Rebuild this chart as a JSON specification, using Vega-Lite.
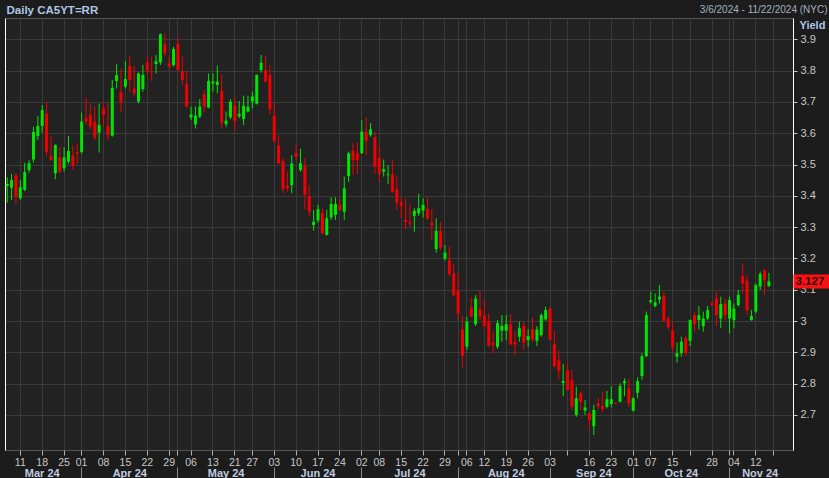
{
"$schema": "https://vega.github.io/schema/vega-lite/v6.json",
"width": 788, "height": 432,
"autosize": {"type": "none"},
"padding": {"left": 5, "top": 18, "right": 36, "bottom": 28},
"background": "#1c1c1c",
"view": {"fill": "#222222", "stroke": "#555555", "strokeWidth": 1},
"config": {"font": "Liberation Sans"},
"data": {"values": [
{"d":"2024-03-06","o":3.431,"h":3.459,"l":3.378,"c":3.438},
{"d":"2024-03-07","o":3.426,"h":3.470,"l":3.387,"c":3.450},
{"d":"2024-03-08","o":3.465,"h":3.472,"l":3.374,"c":3.397},
{"d":"2024-03-11","o":3.392,"h":3.450,"l":3.387,"c":3.427},
{"d":"2024-03-12","o":3.419,"h":3.506,"l":3.415,"c":3.476},
{"d":"2024-03-13","o":3.482,"h":3.514,"l":3.474,"c":3.504},
{"d":"2024-03-14","o":3.516,"h":3.621,"l":3.506,"c":3.604},
{"d":"2024-03-15","o":3.591,"h":3.655,"l":3.578,"c":3.623},
{"d":"2024-03-18","o":3.623,"h":3.690,"l":3.602,"c":3.674},
{"d":"2024-03-19","o":3.663,"h":3.701,"l":3.527,"c":3.541},
{"d":"2024-03-20","o":3.527,"h":3.591,"l":3.512,"c":3.514},
{"d":"2024-03-21","o":3.472,"h":3.565,"l":3.453,"c":3.562},
{"d":"2024-03-22","o":3.523,"h":3.555,"l":3.472,"c":3.477},
{"d":"2024-03-25","o":3.488,"h":3.555,"l":3.477,"c":3.523},
{"d":"2024-03-26","o":3.509,"h":3.591,"l":3.502,"c":3.543},
{"d":"2024-03-27","o":3.529,"h":3.562,"l":3.482,"c":3.497},
{"d":"2024-03-28","o":3.539,"h":3.568,"l":3.502,"c":3.535},
{"d":"2024-04-01","o":3.540,"h":3.666,"l":3.534,"c":3.637},
{"d":"2024-04-02","o":3.647,"h":3.715,"l":3.629,"c":3.637},
{"d":"2024-04-03","o":3.658,"h":3.695,"l":3.612,"c":3.621},
{"d":"2024-04-04","o":3.637,"h":3.685,"l":3.578,"c":3.587},
{"d":"2024-04-05","o":3.602,"h":3.695,"l":3.538,"c":3.626},
{"d":"2024-04-08","o":3.679,"h":3.697,"l":3.621,"c":3.658},
{"d":"2024-04-09","o":3.623,"h":3.695,"l":3.578,"c":3.594},
{"d":"2024-04-10","o":3.592,"h":3.770,"l":3.589,"c":3.745},
{"d":"2024-04-11","o":3.767,"h":3.820,"l":3.743,"c":3.786},
{"d":"2024-04-12","o":3.731,"h":3.807,"l":3.667,"c":3.699},
{"d":"2024-04-15","o":3.749,"h":3.831,"l":3.743,"c":3.773},
{"d":"2024-04-16","o":3.815,"h":3.847,"l":3.733,"c":3.770},
{"d":"2024-04-17","o":3.741,"h":3.816,"l":3.717,"c":3.727},
{"d":"2024-04-18","o":3.701,"h":3.794,"l":3.695,"c":3.791},
{"d":"2024-04-19","o":3.741,"h":3.818,"l":3.733,"c":3.786},
{"d":"2024-04-22","o":3.826,"h":3.845,"l":3.786,"c":3.800},
{"d":"2024-04-23","o":3.798,"h":3.845,"l":3.767,"c":3.795},
{"d":"2024-04-24","o":3.821,"h":3.850,"l":3.791,"c":3.830},
{"d":"2024-04-25","o":3.826,"h":3.919,"l":3.818,"c":3.916},
{"d":"2024-04-26","o":3.884,"h":3.919,"l":3.845,"c":3.855},
{"d":"2024-04-29","o":3.823,"h":3.845,"l":3.805,"c":3.813},
{"d":"2024-04-30","o":3.818,"h":3.876,"l":3.813,"c":3.869},
{"d":"2024-05-01","o":3.884,"h":3.908,"l":3.800,"c":3.802},
{"d":"2024-05-02","o":3.797,"h":3.845,"l":3.754,"c":3.770},
{"d":"2024-05-03","o":3.756,"h":3.797,"l":3.680,"c":3.685},
{"d":"2024-05-06","o":3.650,"h":3.685,"l":3.642,"c":3.660},
{"d":"2024-05-07","o":3.628,"h":3.685,"l":3.615,"c":3.656},
{"d":"2024-05-08","o":3.653,"h":3.709,"l":3.648,"c":3.685},
{"d":"2024-05-09","o":3.724,"h":3.738,"l":3.667,"c":3.685},
{"d":"2024-05-10","o":3.682,"h":3.791,"l":3.679,"c":3.767},
{"d":"2024-05-13","o":3.759,"h":3.791,"l":3.733,"c":3.765},
{"d":"2024-05-14","o":3.754,"h":3.816,"l":3.727,"c":3.765},
{"d":"2024-05-15","o":3.735,"h":3.788,"l":3.616,"c":3.634},
{"d":"2024-05-16","o":3.629,"h":3.669,"l":3.621,"c":3.640},
{"d":"2024-05-17","o":3.651,"h":3.709,"l":3.645,"c":3.701},
{"d":"2024-05-21","o":3.688,"h":3.714,"l":3.610,"c":3.639},
{"d":"2024-05-22","o":3.654,"h":3.703,"l":3.648,"c":3.662},
{"d":"2024-05-23","o":3.645,"h":3.720,"l":3.626,"c":3.688},
{"d":"2024-05-24","o":3.669,"h":3.720,"l":3.666,"c":3.685},
{"d":"2024-05-27","o":3.701,"h":3.733,"l":3.679,"c":3.717},
{"d":"2024-05-28","o":3.694,"h":3.788,"l":3.692,"c":3.786},
{"d":"2024-05-29","o":3.802,"h":3.850,"l":3.794,"c":3.825},
{"d":"2024-05-30","o":3.802,"h":3.847,"l":3.763,"c":3.765},
{"d":"2024-05-31","o":3.786,"h":3.818,"l":3.660,"c":3.677},
{"d":"2024-06-03","o":3.656,"h":3.695,"l":3.568,"c":3.575},
{"d":"2024-06-04","o":3.560,"h":3.594,"l":3.501,"c":3.504},
{"d":"2024-06-05","o":3.511,"h":3.520,"l":3.408,"c":3.422},
{"d":"2024-06-06","o":3.432,"h":3.477,"l":3.413,"c":3.424},
{"d":"2024-06-07","o":3.434,"h":3.530,"l":3.408,"c":3.503},
{"d":"2024-06-10","o":3.536,"h":3.564,"l":3.514,"c":3.525},
{"d":"2024-06-11","o":3.482,"h":3.550,"l":3.477,"c":3.504},
{"d":"2024-06-12","o":3.495,"h":3.520,"l":3.357,"c":3.403},
{"d":"2024-06-13","o":3.399,"h":3.434,"l":3.333,"c":3.349},
{"d":"2024-06-14","o":3.307,"h":3.355,"l":3.289,"c":3.317},
{"d":"2024-06-17","o":3.321,"h":3.371,"l":3.314,"c":3.357},
{"d":"2024-06-18","o":3.346,"h":3.360,"l":3.278,"c":3.280},
{"d":"2024-06-19","o":3.275,"h":3.355,"l":3.273,"c":3.328},
{"d":"2024-06-20","o":3.331,"h":3.395,"l":3.323,"c":3.374},
{"d":"2024-06-21","o":3.339,"h":3.395,"l":3.323,"c":3.374},
{"d":"2024-06-24","o":3.371,"h":3.392,"l":3.352,"c":3.355},
{"d":"2024-06-25","o":3.349,"h":3.461,"l":3.323,"c":3.424},
{"d":"2024-06-26","o":3.463,"h":3.541,"l":3.445,"c":3.536},
{"d":"2024-06-27","o":3.544,"h":3.570,"l":3.466,"c":3.514},
{"d":"2024-06-28","o":3.536,"h":3.570,"l":3.470,"c":3.514},
{"d":"2024-07-02","o":3.536,"h":3.642,"l":3.534,"c":3.605},
{"d":"2024-07-03","o":3.605,"h":3.651,"l":3.530,"c":3.576},
{"d":"2024-07-04","o":3.594,"h":3.632,"l":3.589,"c":3.612},
{"d":"2024-07-05","o":3.587,"h":3.605,"l":3.472,"c":3.493},
{"d":"2024-07-08","o":3.520,"h":3.557,"l":3.445,"c":3.470},
{"d":"2024-07-09","o":3.477,"h":3.516,"l":3.461,"c":3.485},
{"d":"2024-07-10","o":3.466,"h":3.498,"l":3.438,"c":3.469},
{"d":"2024-07-11","o":3.467,"h":3.516,"l":3.410,"c":3.413},
{"d":"2024-07-12","o":3.421,"h":3.461,"l":3.355,"c":3.378},
{"d":"2024-07-15","o":3.378,"h":3.395,"l":3.328,"c":3.368},
{"d":"2024-07-16","o":3.323,"h":3.392,"l":3.293,"c":3.316},
{"d":"2024-07-17","o":3.317,"h":3.374,"l":3.301,"c":3.312},
{"d":"2024-07-18","o":3.336,"h":3.360,"l":3.285,"c":3.352},
{"d":"2024-07-19","o":3.344,"h":3.406,"l":3.336,"c":3.360},
{"d":"2024-07-22","o":3.353,"h":3.392,"l":3.331,"c":3.371},
{"d":"2024-07-23","o":3.358,"h":3.395,"l":3.323,"c":3.328},
{"d":"2024-07-24","o":3.314,"h":3.357,"l":3.259,"c":3.305},
{"d":"2024-07-25","o":3.230,"h":3.328,"l":3.218,"c":3.288},
{"d":"2024-07-26","o":3.288,"h":3.317,"l":3.227,"c":3.235},
{"d":"2024-07-29","o":3.199,"h":3.243,"l":3.193,"c":3.218},
{"d":"2024-07-30","o":3.195,"h":3.238,"l":3.142,"c":3.150},
{"d":"2024-07-31","o":3.152,"h":3.182,"l":3.078,"c":3.083},
{"d":"2024-08-01","o":3.097,"h":3.152,"l":3.003,"c":3.025},
{"d":"2024-08-02","o":2.973,"h":3.016,"l":2.852,"c":2.889},
{"d":"2024-08-06","o":2.918,"h":3.014,"l":2.907,"c":2.998},
{"d":"2024-08-07","o":3.043,"h":3.076,"l":3.012,"c":3.014},
{"d":"2024-08-08","o":2.990,"h":3.083,"l":2.984,"c":3.072},
{"d":"2024-08-09","o":3.038,"h":3.097,"l":3.003,"c":3.014},
{"d":"2024-08-12","o":3.017,"h":3.062,"l":2.975,"c":2.985},
{"d":"2024-08-13","o":3.000,"h":3.025,"l":2.918,"c":2.921},
{"d":"2024-08-14","o":2.931,"h":2.966,"l":2.897,"c":2.923},
{"d":"2024-08-15","o":2.918,"h":3.003,"l":2.911,"c":2.993},
{"d":"2024-08-16","o":2.969,"h":3.019,"l":2.934,"c":2.984},
{"d":"2024-08-19","o":2.969,"h":3.019,"l":2.939,"c":2.990},
{"d":"2024-08-20","o":2.990,"h":3.022,"l":2.923,"c":2.925},
{"d":"2024-08-21","o":2.934,"h":2.966,"l":2.891,"c":2.925},
{"d":"2024-08-22","o":2.950,"h":2.998,"l":2.934,"c":2.977},
{"d":"2024-08-23","o":2.985,"h":2.998,"l":2.909,"c":2.931},
{"d":"2024-08-26","o":2.939,"h":2.973,"l":2.918,"c":2.952},
{"d":"2024-08-27","o":2.973,"h":3.012,"l":2.934,"c":2.941},
{"d":"2024-08-28","o":2.937,"h":2.984,"l":2.920,"c":2.973},
{"d":"2024-08-29","o":2.955,"h":3.024,"l":2.950,"c":3.019},
{"d":"2024-08-30","o":3.005,"h":3.046,"l":3.001,"c":3.035},
{"d":"2024-09-03","o":3.040,"h":3.044,"l":2.939,"c":2.941},
{"d":"2024-09-04","o":2.926,"h":2.969,"l":2.852,"c":2.856},
{"d":"2024-09-05","o":2.875,"h":2.907,"l":2.814,"c":2.841},
{"d":"2024-09-06","o":2.802,"h":2.863,"l":2.760,"c":2.808},
{"d":"2024-09-09","o":2.843,"h":2.863,"l":2.777,"c":2.779},
{"d":"2024-09-10","o":2.811,"h":2.843,"l":2.716,"c":2.726},
{"d":"2024-09-11","o":2.700,"h":2.790,"l":2.694,"c":2.753},
{"d":"2024-09-12","o":2.769,"h":2.774,"l":2.716,"c":2.742},
{"d":"2024-09-13","o":2.714,"h":2.748,"l":2.700,"c":2.724},
{"d":"2024-09-16","o":2.705,"h":2.710,"l":2.654,"c":2.684},
{"d":"2024-09-17","o":2.664,"h":2.732,"l":2.636,"c":2.716},
{"d":"2024-09-18","o":2.737,"h":2.756,"l":2.718,"c":2.728},
{"d":"2024-09-19","o":2.728,"h":2.774,"l":2.710,"c":2.719},
{"d":"2024-09-20","o":2.726,"h":2.777,"l":2.721,"c":2.750},
{"d":"2024-09-23","o":2.735,"h":2.792,"l":2.724,"c":2.750},
{"d":"2024-09-24","o":2.738,"h":2.739,"l":2.734,"c":2.735},
{"d":"2024-09-25","o":2.742,"h":2.801,"l":2.740,"c":2.792},
{"d":"2024-09-26","o":2.801,"h":2.817,"l":2.760,"c":2.808},
{"d":"2024-09-27","o":2.785,"h":2.814,"l":2.726,"c":2.737},
{"d":"2024-10-01","o":2.714,"h":2.758,"l":2.710,"c":2.753},
{"d":"2024-10-02","o":2.771,"h":2.820,"l":2.753,"c":2.808},
{"d":"2024-10-03","o":2.824,"h":2.897,"l":2.812,"c":2.888},
{"d":"2024-10-04","o":2.888,"h":3.030,"l":2.884,"c":3.019},
{"d":"2024-10-07","o":3.060,"h":3.094,"l":3.056,"c":3.067},
{"d":"2024-10-08","o":3.048,"h":3.088,"l":3.044,"c":3.060},
{"d":"2024-10-09","o":3.069,"h":3.115,"l":3.056,"c":3.078},
{"d":"2024-10-10","o":3.080,"h":3.094,"l":2.999,"c":3.001},
{"d":"2024-10-11","o":3.008,"h":3.016,"l":2.973,"c":2.980},
{"d":"2024-10-15","o":2.969,"h":2.998,"l":2.899,"c":2.916},
{"d":"2024-10-16","o":2.886,"h":2.931,"l":2.867,"c":2.897},
{"d":"2024-10-17","o":2.897,"h":2.950,"l":2.886,"c":2.934},
{"d":"2024-10-18","o":2.945,"h":2.952,"l":2.888,"c":2.897},
{"d":"2024-10-21","o":2.937,"h":3.005,"l":2.920,"c":3.003},
{"d":"2024-10-22","o":3.019,"h":3.030,"l":2.966,"c":2.990},
{"d":"2024-10-23","o":3.003,"h":3.048,"l":2.973,"c":3.019},
{"d":"2024-10-24","o":2.984,"h":3.030,"l":2.966,"c":3.008},
{"d":"2024-10-25","o":3.008,"h":3.048,"l":3.003,"c":3.035},
{"d":"2024-10-28","o":3.057,"h":3.062,"l":3.048,"c":3.051},
{"d":"2024-10-29","o":3.072,"h":3.094,"l":2.984,"c":3.019},
{"d":"2024-10-30","o":3.008,"h":3.078,"l":2.977,"c":3.054},
{"d":"2024-10-31","o":3.056,"h":3.072,"l":3.003,"c":3.019},
{"d":"2024-11-01","o":3.008,"h":3.078,"l":2.961,"c":3.067},
{"d":"2024-11-04","o":3.003,"h":3.056,"l":2.977,"c":3.040},
{"d":"2024-11-05","o":3.051,"h":3.099,"l":3.046,"c":3.083},
{"d":"2024-11-06","o":3.144,"h":3.184,"l":3.088,"c":3.120},
{"d":"2024-11-07","o":3.129,"h":3.147,"l":3.019,"c":3.035},
{"d":"2024-11-08","o":3.003,"h":3.035,"l":3.001,"c":3.016},
{"d":"2024-11-12","o":3.030,"h":3.120,"l":3.024,"c":3.115},
{"d":"2024-11-13","o":3.110,"h":3.158,"l":3.099,"c":3.150},
{"d":"2024-11-14","o":3.161,"h":3.168,"l":3.083,"c":3.131},
{"d":"2024-11-15","o":3.112,"h":3.154,"l":3.108,"c":3.127}
]},
"resolve": {"axis": {"x": "independent", "y": "independent"}},
"layer": [
{
"mark": {"type": "rule", "strokeWidth": 1},
"encoding": {
"x": {"field": "d", "type": "ordinal",
"scale": {"type": "band", "paddingInner": 0, "paddingOuter": 0, "domain": ["2024-03-06","2024-03-07","2024-03-08","2024-03-11","2024-03-12","2024-03-13","2024-03-14","2024-03-15","2024-03-18","2024-03-19","2024-03-20","2024-03-21","2024-03-22","2024-03-25","2024-03-26","2024-03-27","2024-03-28","2024-04-01","2024-04-02","2024-04-03","2024-04-04","2024-04-05","2024-04-08","2024-04-09","2024-04-10","2024-04-11","2024-04-12","2024-04-15","2024-04-16","2024-04-17","2024-04-18","2024-04-19","2024-04-22","2024-04-23","2024-04-24","2024-04-25","2024-04-26","2024-04-29","2024-04-30","2024-05-01","2024-05-02","2024-05-03","2024-05-06","2024-05-07","2024-05-08","2024-05-09","2024-05-10","2024-05-13","2024-05-14","2024-05-15","2024-05-16","2024-05-17","2024-05-21","2024-05-22","2024-05-23","2024-05-24","2024-05-27","2024-05-28","2024-05-29","2024-05-30","2024-05-31","2024-06-03","2024-06-04","2024-06-05","2024-06-06","2024-06-07","2024-06-10","2024-06-11","2024-06-12","2024-06-13","2024-06-14","2024-06-17","2024-06-18","2024-06-19","2024-06-20","2024-06-21","2024-06-24","2024-06-25","2024-06-26","2024-06-27","2024-06-28","2024-07-02","2024-07-03","2024-07-04","2024-07-05","2024-07-08","2024-07-09","2024-07-10","2024-07-11","2024-07-12","2024-07-15","2024-07-16","2024-07-17","2024-07-18","2024-07-19","2024-07-22","2024-07-23","2024-07-24","2024-07-25","2024-07-26","2024-07-29","2024-07-30","2024-07-31","2024-08-01","2024-08-02","2024-08-06","2024-08-07","2024-08-08","2024-08-09","2024-08-12","2024-08-13","2024-08-14","2024-08-15","2024-08-16","2024-08-19","2024-08-20","2024-08-21","2024-08-22","2024-08-23","2024-08-26","2024-08-27","2024-08-28","2024-08-29","2024-08-30","2024-09-03","2024-09-04","2024-09-05","2024-09-06","2024-09-09","2024-09-10","2024-09-11","2024-09-12","2024-09-13","2024-09-16","2024-09-17","2024-09-18","2024-09-19","2024-09-20","2024-09-23","2024-09-24","2024-09-25","2024-09-26","2024-09-27","2024-10-01","2024-10-02","2024-10-03","2024-10-04","2024-10-07","2024-10-08","2024-10-09","2024-10-10","2024-10-11","2024-10-15","2024-10-16","2024-10-17","2024-10-18","2024-10-21","2024-10-22","2024-10-23","2024-10-24","2024-10-25","2024-10-28","2024-10-29","2024-10-30","2024-10-31","2024-11-01","2024-11-04","2024-11-05","2024-11-06","2024-11-07","2024-11-08","2024-11-12","2024-11-13","2024-11-14","2024-11-15","2024-11-18","2024-11-19","2024-11-20","2024-11-21","2024-11-22"]},
"axis": {"orient": "bottom", "title": null, "values": ["2024-03-11","2024-03-18","2024-03-25","2024-04-01","2024-04-08","2024-04-15","2024-04-22","2024-04-29","2024-05-01","2024-05-06","2024-05-13","2024-05-21","2024-05-27","2024-06-03","2024-06-10","2024-06-17","2024-06-24","2024-07-02","2024-07-08","2024-07-15","2024-07-22","2024-07-29","2024-08-01","2024-08-06","2024-08-12","2024-08-19","2024-08-26","2024-09-03","2024-09-09","2024-09-16","2024-09-23","2024-10-01","2024-10-07","2024-10-15","2024-10-21","2024-10-28","2024-11-01","2024-11-04","2024-11-12","2024-11-18"],
"labelExpr": "indexof(['2024-05-01','2024-08-01','2024-09-09','2024-10-21','2024-11-01','2024-11-18'], datum.value) >= 0 ? '' : slice(datum.value, 8)",
"grid": true, "gridColor": "#3a3a3a", "gridWidth": 1, "domain": false, "ticks": true, "tickSize": 5, "tickColor": "#b0b0b0",
"labelColor": "#c8c8c8", "labelFont": "Liberation Sans", "labelFontSize": 10.5, "labelPadding": 2, "labelAngle": 0, "labelOverlap": false, "labelBound": false, "labelFlush": false}},
"y": {"field": "l", "type": "quantitative", "scale": {"domain": [2.588, 3.968], "nice": false, "zero": false},
"axis": {"orient": "right", "values": [2.7, 2.8, 2.9, 3.0, 3.1, 3.2, 3.3, 3.4, 3.5, 3.6, 3.7, 3.8, 3.9], "format": "~g",
"grid": true, "gridColor": "#3a3a3a", "gridWidth": 1, "domain": true, "domainColor": "#ffffff", "domainWidth": 1,
"ticks": true, "tickSize": 4, "tickColor": "#c8c8c8", "labelColor": "#c8c8c8", "labelFont": "Liberation Sans", "labelFontSize": 11, "labelPadding": 3, "labelOverlap": false, "labelFlush": false,
"title": "Yield", "titleAngle": 0, "titleAlign": "left", "titleBaseline": "middle", "titleX": 6, "titleY": 7, "titleColor": "#aec6e6", "titleFont": "Liberation Sans", "titleFontSize": 11, "titleFontWeight": "bold"}},
"y2": {"field": "h"},
"color": {"condition": {"test": "datum.c >= datum.o", "value": "#00e600"}, "value": "#f00000"}
}
},
{
"mark": {"type": "bar", "width": 3},
"encoding": {
"x": {"field": "d", "type": "ordinal",
"scale": {"type": "band", "paddingInner": 0, "paddingOuter": 0, "domain": ["2024-03-06","2024-03-07","2024-03-08","2024-03-11","2024-03-12","2024-03-13","2024-03-14","2024-03-15","2024-03-18","2024-03-19","2024-03-20","2024-03-21","2024-03-22","2024-03-25","2024-03-26","2024-03-27","2024-03-28","2024-04-01","2024-04-02","2024-04-03","2024-04-04","2024-04-05","2024-04-08","2024-04-09","2024-04-10","2024-04-11","2024-04-12","2024-04-15","2024-04-16","2024-04-17","2024-04-18","2024-04-19","2024-04-22","2024-04-23","2024-04-24","2024-04-25","2024-04-26","2024-04-29","2024-04-30","2024-05-01","2024-05-02","2024-05-03","2024-05-06","2024-05-07","2024-05-08","2024-05-09","2024-05-10","2024-05-13","2024-05-14","2024-05-15","2024-05-16","2024-05-17","2024-05-21","2024-05-22","2024-05-23","2024-05-24","2024-05-27","2024-05-28","2024-05-29","2024-05-30","2024-05-31","2024-06-03","2024-06-04","2024-06-05","2024-06-06","2024-06-07","2024-06-10","2024-06-11","2024-06-12","2024-06-13","2024-06-14","2024-06-17","2024-06-18","2024-06-19","2024-06-20","2024-06-21","2024-06-24","2024-06-25","2024-06-26","2024-06-27","2024-06-28","2024-07-02","2024-07-03","2024-07-04","2024-07-05","2024-07-08","2024-07-09","2024-07-10","2024-07-11","2024-07-12","2024-07-15","2024-07-16","2024-07-17","2024-07-18","2024-07-19","2024-07-22","2024-07-23","2024-07-24","2024-07-25","2024-07-26","2024-07-29","2024-07-30","2024-07-31","2024-08-01","2024-08-02","2024-08-06","2024-08-07","2024-08-08","2024-08-09","2024-08-12","2024-08-13","2024-08-14","2024-08-15","2024-08-16","2024-08-19","2024-08-20","2024-08-21","2024-08-22","2024-08-23","2024-08-26","2024-08-27","2024-08-28","2024-08-29","2024-08-30","2024-09-03","2024-09-04","2024-09-05","2024-09-06","2024-09-09","2024-09-10","2024-09-11","2024-09-12","2024-09-13","2024-09-16","2024-09-17","2024-09-18","2024-09-19","2024-09-20","2024-09-23","2024-09-24","2024-09-25","2024-09-26","2024-09-27","2024-10-01","2024-10-02","2024-10-03","2024-10-04","2024-10-07","2024-10-08","2024-10-09","2024-10-10","2024-10-11","2024-10-15","2024-10-16","2024-10-17","2024-10-18","2024-10-21","2024-10-22","2024-10-23","2024-10-24","2024-10-25","2024-10-28","2024-10-29","2024-10-30","2024-10-31","2024-11-01","2024-11-04","2024-11-05","2024-11-06","2024-11-07","2024-11-08","2024-11-12","2024-11-13","2024-11-14","2024-11-15","2024-11-18","2024-11-19","2024-11-20","2024-11-21","2024-11-22"]},
"axis": {"orient": "bottom", "offset": 15, "title": null, "values": ["2024-03-18","2024-04-16","2024-05-16","2024-06-17","2024-07-17","2024-08-19","2024-09-17","2024-10-17","2024-11-13"],
"labelExpr": "utcFormat(toDate(datum.value), '%b %y')",
"grid": false, "domain": false, "ticks": false, "tickSize": 0,
"labelColor": "#c0cce0", "labelFont": "Liberation Sans", "labelFontSize": 11, "labelFontWeight": "bold", "labelPadding": 2.5, "labelAngle": 0, "labelOverlap": false, "labelBound": false, "labelFlush": false}},
"y": {"field": "o", "type": "quantitative", "scale": {"domain": [2.588, 3.968], "nice": false, "zero": false},
"axis": {"orient": "right", "values": [3.127], "format": ".3f", "grid": false, "domain": false,
"ticks": true, "tickSize": 36, "tickWidth": 14, "tickColor": "#ff1010", "tickCap": "butt",
"labelColor": "#1a0000", "labelFont": "Liberation Sans", "labelFontSize": 11.5, "labelFontWeight": "bold", "labelPadding": -34, "labelAlign": "left", "labelOverlap": false, "labelFlush": false, "title": null}},
"y2": {"field": "c"},
"color": {"condition": {"test": "datum.c >= datum.o", "value": "#00e600"}, "value": "#f00000"}
}
},
{
"mark": {"type": "point", "opacity": 0},
"encoding": {
"x": {"field": "d", "type": "ordinal",
"scale": {"type": "band", "paddingInner": 0, "paddingOuter": 0, "domain": ["2024-03-06","2024-03-07","2024-03-08","2024-03-11","2024-03-12","2024-03-13","2024-03-14","2024-03-15","2024-03-18","2024-03-19","2024-03-20","2024-03-21","2024-03-22","2024-03-25","2024-03-26","2024-03-27","2024-03-28","2024-04-01","2024-04-02","2024-04-03","2024-04-04","2024-04-05","2024-04-08","2024-04-09","2024-04-10","2024-04-11","2024-04-12","2024-04-15","2024-04-16","2024-04-17","2024-04-18","2024-04-19","2024-04-22","2024-04-23","2024-04-24","2024-04-25","2024-04-26","2024-04-29","2024-04-30","2024-05-01","2024-05-02","2024-05-03","2024-05-06","2024-05-07","2024-05-08","2024-05-09","2024-05-10","2024-05-13","2024-05-14","2024-05-15","2024-05-16","2024-05-17","2024-05-21","2024-05-22","2024-05-23","2024-05-24","2024-05-27","2024-05-28","2024-05-29","2024-05-30","2024-05-31","2024-06-03","2024-06-04","2024-06-05","2024-06-06","2024-06-07","2024-06-10","2024-06-11","2024-06-12","2024-06-13","2024-06-14","2024-06-17","2024-06-18","2024-06-19","2024-06-20","2024-06-21","2024-06-24","2024-06-25","2024-06-26","2024-06-27","2024-06-28","2024-07-02","2024-07-03","2024-07-04","2024-07-05","2024-07-08","2024-07-09","2024-07-10","2024-07-11","2024-07-12","2024-07-15","2024-07-16","2024-07-17","2024-07-18","2024-07-19","2024-07-22","2024-07-23","2024-07-24","2024-07-25","2024-07-26","2024-07-29","2024-07-30","2024-07-31","2024-08-01","2024-08-02","2024-08-06","2024-08-07","2024-08-08","2024-08-09","2024-08-12","2024-08-13","2024-08-14","2024-08-15","2024-08-16","2024-08-19","2024-08-20","2024-08-21","2024-08-22","2024-08-23","2024-08-26","2024-08-27","2024-08-28","2024-08-29","2024-08-30","2024-09-03","2024-09-04","2024-09-05","2024-09-06","2024-09-09","2024-09-10","2024-09-11","2024-09-12","2024-09-13","2024-09-16","2024-09-17","2024-09-18","2024-09-19","2024-09-20","2024-09-23","2024-09-24","2024-09-25","2024-09-26","2024-09-27","2024-10-01","2024-10-02","2024-10-03","2024-10-04","2024-10-07","2024-10-08","2024-10-09","2024-10-10","2024-10-11","2024-10-15","2024-10-16","2024-10-17","2024-10-18","2024-10-21","2024-10-22","2024-10-23","2024-10-24","2024-10-25","2024-10-28","2024-10-29","2024-10-30","2024-10-31","2024-11-01","2024-11-04","2024-11-05","2024-11-06","2024-11-07","2024-11-08","2024-11-12","2024-11-13","2024-11-14","2024-11-15","2024-11-18","2024-11-19","2024-11-20","2024-11-21","2024-11-22"]},
"axis": {"orient": "bottom", "offset": 17, "values": ["2024-04-01","2024-05-01","2024-06-03","2024-07-02","2024-08-01","2024-09-03","2024-10-01","2024-11-01"],
"labels": false, "grid": false, "domain": false, "ticks": true, "tickSize": 12, "tickColor": "#8c8c8c",
"title": "3/6/2024 - 11/22/2024 (NYC)", "titleX": 822, "titleY": -458, "titleAlign": "right", "titleBaseline": "middle", "titleAngle": 0,
"titleColor": "#a3b0c0", "titleFont": "Liberation Sans", "titleFontSize": 10, "titleFontWeight": "normal"}},
"y": {"field": "c", "type": "quantitative", "scale": {"domain": [2.588, 3.968], "nice": false, "zero": false},
"axis": {"orient": "left", "domain": true, "domainColor": "#ffffff", "domainWidth": 1, "ticks": false, "labels": false, "grid": false,
"title": "Daily CA5YT=RR", "titleAngle": 0, "titleAlign": "left", "titleBaseline": "alphabetic", "titleX": 1, "titleY": -5,
"titleColor": "#aec6e6", "titleFont": "Liberation Sans", "titleFontSize": 11.5, "titleFontWeight": "bold"}}
}
}
]
}
